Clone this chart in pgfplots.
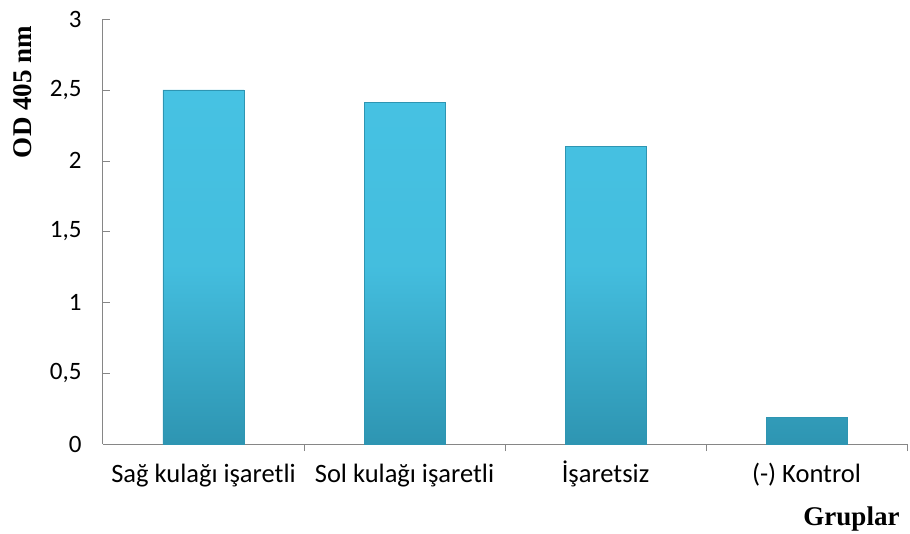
\documentclass[border=0pt]{standalone}
\usepackage{fontspec}
\setmainfont{Carlito}
\newfontfamily\timesfont{Liberation Serif}
\usepackage{pgfplots}
\pgfplotsset{compat=1.18}
\definecolor{axgray}{HTML}{868686}
\definecolor{bartop}{HTML}{46C2E3}
\definecolor{barbot}{HTML}{2E95B2}
\begin{document}
\begin{tikzpicture}
\begin{axis}[
  at={(0,0)}, anchor=south west,
  scale only axis,
  width=804bp, height=425bp,
  xmin=-0.5, xmax=3.5,
  ymin=0, ymax=3,
  ytick={0,0.5,1,1.5,2,2.5,3},
  yticklabels={0,{0,5},1,{1,5},2,{2,5},3},
  xtick={0,1,2,3},
  xticklabels={Sağ kulağı işaretli, Sol kulağı işaretli, İşaretsiz, (-) Kontrol},
  extra x ticks={0.5,1.5,2.5,3.5},
  extra x tick labels={},
  major tick length=7bp,
  x tick style={draw=none},
  extra x tick style={x tick style={draw=axgray}},
  y tick style={draw=axgray},
  tick align=inside,
  axis x line*=bottom, axis y line*=left,
  axis line style={draw=axgray, line width=1bp, -},
  yticklabel style={font=\fontsize{25bp}{30bp}\selectfont, text=black, xshift=-18bp},
  xticklabel style={font=\fontsize{26.5bp}{31bp}\selectfont, text=black, yshift=-21bp, text height=0.72em, text depth=0.22em},
  /pgf/number format/assume math mode=true,
  ybar, bar width=81bp,
  clip=false,
]
\addplot[draw=barbot, top color=bartop, bottom color=barbot, middle color=bartop!90!barbot] coordinates {(0,2.5) (1,2.41) (2,2.1) (3,0.19)};
\node[xshift=-80bp, yshift=352bp, rotate=90, font=\timesfont\bfseries\fontsize{27bp}{32bp}\selectfont, anchor=center] at (rel axis cs:0,0) {OD 405 nm};
\node[xshift=-4bp, yshift=-75bp, font=\timesfont\bfseries\fontsize{27bp}{32bp}\selectfont, anchor=east] at (rel axis cs:1,0) {Gruplar};
\end{axis}
\pgfresetboundingbox
\path[use as bounding box] (-103bp,-90bp) rectangle (807bp,444bp);
\end{tikzpicture}
\end{document}
